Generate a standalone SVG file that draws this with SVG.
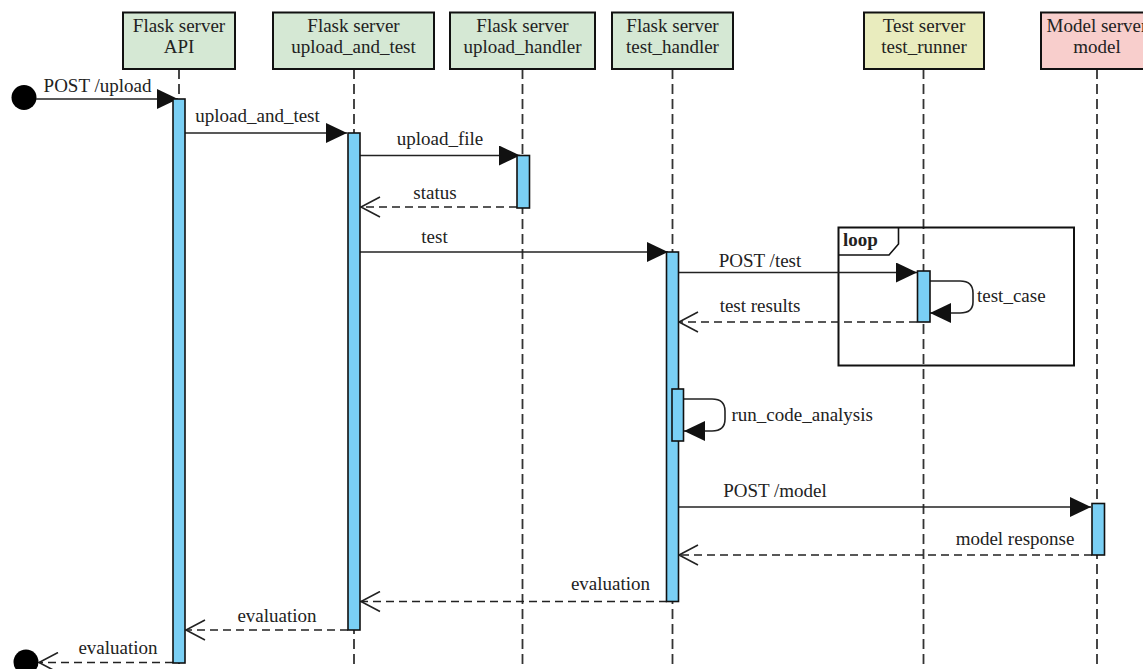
<svg xmlns="http://www.w3.org/2000/svg" width="1143" height="669" viewBox="0 0 1143 669">
<defs>
<style>
.box{stroke:#111;stroke-width:2}
.t{font-family:"Liberation Serif","Times New Roman",serif;font-size:19px;fill:#222}
.c{text-anchor:middle}
.life{stroke:#333;stroke-width:1.8;stroke-dasharray:10 5;fill:none}
.msg{stroke:#222;stroke-width:1.6;fill:none}
.ret{stroke:#222;stroke-width:1.6;fill:none;stroke-dasharray:8 5}
.bar{fill:#7acff4;stroke:#111;stroke-width:1.6}
</style>
<marker id="fill" markerUnits="userSpaceOnUse" viewBox="0 0 21 20" refX="21" refY="10" markerWidth="21" markerHeight="20" orient="auto">
<path d="M0,0 L21,10 L0,20 z" fill="#111"/>
</marker>
<marker id="open" markerUnits="userSpaceOnUse" viewBox="-1 -1 22 22" refX="19" refY="10" markerWidth="22" markerHeight="22" orient="auto">
<path d="M0,0 L19,10 L0,20" fill="none" stroke="#222" stroke-width="1.6"/>
</marker>
</defs>
<rect width="1143" height="669" fill="#fff"/>

<g id="lifelines">
<line class="life" x1="179" y1="69" x2="179" y2="669"/>
<line class="life" x1="354" y1="69" x2="354" y2="669"/>
<line class="life" x1="522.5" y1="69" x2="522.5" y2="669"/>
<line class="life" x1="672.5" y1="69" x2="672.5" y2="669"/>
<line class="life" x1="923.5" y1="69" x2="923.5" y2="669"/>
<line class="life" x1="1097" y1="69" x2="1097" y2="669"/>
</g>

<g id="p_api">
<rect class="box" x="123" y="12.5" width="112" height="56.5" fill="#d5e8d4"/>
<text class="t c" x="179" y="31.5">Flask server</text>
<text class="t c" x="179" y="52.5">API</text>
</g>
<g id="p_upload_and_test">
<rect class="box" x="273" y="12.5" width="161" height="56.5" fill="#d5e8d4"/>
<text class="t c" x="353.5" y="31.5">Flask server</text>
<text class="t c" x="353.5" y="52.5">upload_and_test</text>
</g>
<g id="p_upload_handler">
<rect class="box" x="450" y="12.5" width="145" height="56.5" fill="#d5e8d4"/>
<text class="t c" x="522.5" y="31.5">Flask server</text>
<text class="t c" x="522.5" y="52.5">upload_handler</text>
</g>
<g id="p_test_handler">
<rect class="box" x="612" y="12.5" width="121" height="56.5" fill="#d5e8d4"/>
<text class="t c" x="672.5" y="31.5">Flask server</text>
<text class="t c" x="672.5" y="52.5">test_handler</text>
</g>
<g id="p_test_runner">
<rect class="box" x="864" y="12.5" width="120" height="56.5" fill="#e9ecbe"/>
<text class="t c" x="924" y="31.5">Test server</text>
<text class="t c" x="924" y="52.5">test_runner</text>
</g>
<g id="p_model">
<rect class="box" x="1041" y="12.5" width="112" height="56.5" fill="#f8cecc"/>
<text class="t c" x="1097" y="31.5">Model server</text>
<text class="t c" x="1097" y="52.5">model</text>
</g>

<g id="loop">
<rect x="838.5" y="227.5" width="235.5" height="138" fill="none" stroke="#111" stroke-width="2"/>
<path d="M838.5,255 H889 L898.5,244 V227.5" fill="none" stroke="#111" stroke-width="1.6"/>
<text class="t" x="843" y="246" font-weight="bold">loop</text>
</g>

<g id="connectors">
<circle cx="24" cy="97.5" r="12.5" fill="#000"/>
<line class="msg" x1="36" y1="99" x2="178" y2="99" marker-end="url(#fill)"/>
<text class="t c" x="97.5" y="91.5">POST /upload</text>

<line class="msg" x1="185" y1="133" x2="347" y2="133" marker-end="url(#fill)"/>
<text class="t c" x="257.5" y="122">upload_and_test</text>

<line class="msg" x1="360" y1="155.5" x2="520" y2="155.5" marker-end="url(#fill)"/>
<text class="t c" x="440" y="145">upload_file</text>

<line class="ret" x1="517" y1="207" x2="361" y2="207" marker-end="url(#open)"/>
<text class="t c" x="435" y="199">status</text>

<line class="msg" x1="360" y1="252" x2="668" y2="252" marker-end="url(#fill)"/>
<text class="t c" x="434.5" y="243.3">test</text>

<line class="msg" x1="678.5" y1="272.5" x2="917" y2="272.5" marker-end="url(#fill)"/>
<text class="t c" x="760" y="266.5">POST /test</text>

<path class="msg" d="M929.5,281 H960 Q973,281 973,293 V302 Q973,313 960,313 H930" marker-end="url(#fill)"/>
<text class="t" x="977" y="301.5">test_case</text>

<line class="ret" x1="917" y1="322" x2="679" y2="322" marker-end="url(#open)"/>
<text class="t c" x="760" y="311.5">test results</text>

<path class="msg" d="M683.5,399 H712 Q725,399 725,411 V419 Q725,431 712,431 H684" marker-end="url(#fill)"/>
<text class="t" x="731.5" y="420.5">run_code_analysis</text>

<line class="msg" x1="678.5" y1="507" x2="1091" y2="507" marker-end="url(#fill)"/>
<text class="t c" x="775" y="496.5">POST /model</text>

<line class="ret" x1="1092" y1="555" x2="679" y2="555" marker-end="url(#open)"/>
<text class="t c" x="1015" y="545">model response</text>

<line class="ret" x1="667" y1="601.5" x2="361" y2="601.5" marker-end="url(#open)"/>
<text class="t c" x="610.5" y="590">evaluation</text>

<line class="ret" x1="348" y1="630" x2="186" y2="630" marker-end="url(#open)"/>
<text class="t c" x="277" y="621.5">evaluation</text>

<line class="ret" x1="173" y1="662.5" x2="39" y2="662.5" marker-end="url(#open)"/>
<circle cx="26" cy="662" r="12.5" fill="#000"/>
<text class="t c" x="118" y="654">evaluation</text>
</g>

<g id="activations">
<rect class="bar" x="173" y="99" width="12" height="564"/>
<rect class="bar" x="348" y="133" width="12" height="497"/>
<rect class="bar" x="517" y="155.5" width="12.5" height="52.5"/>
<rect class="bar" x="666.5" y="252" width="12" height="349.5"/>
<rect class="bar" x="672" y="389" width="11.5" height="52"/>
<rect class="bar" x="917.5" y="271" width="12.5" height="51"/>
<rect class="bar" x="1092" y="503.5" width="12.5" height="51.5"/>
</g>
</svg>
